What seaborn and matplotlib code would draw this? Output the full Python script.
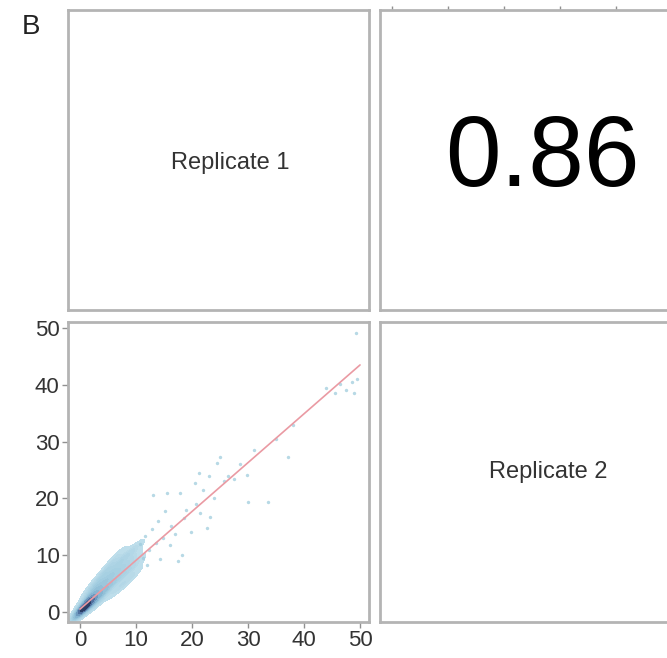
import numpy as np
import pandas as pd
import matplotlib
matplotlib.use("Agg")
import matplotlib.pyplot as plt
from matplotlib.colors import LinearSegmentedColormap
import seaborn as sns

# labels of the pairs panels
var_names = ["Replicate 1", "Replicate 2"]
corr_label = "0.86"
panel_tag = "B"
tick_vals = [0, 10, 20, 30, 40, 50]

# dense cloud near the diagonal
dense_x = [0.2, 0.4, 0.5, 0.6, 0.8, 0.3, 1.0, 0.7, 1.2, 0.9, 1.4, 0.5, 0.3, 0.6, 1.1, 0.4, 0.8, 1.3, 1.6, 0.2,
           1.8, 2.0, 2.3, 2.5, 2.1, 2.8, 3.0, 3.2, 3.5, 2.7, 3.8, 4.0, 3.6, 4.2, 4.5, 4.8, 4.3, 5.0, 1.5, 2.4,
           3.3, 4.1, 1.2, 1.9, 2.9, 5.3, 5.5, 5.8, 6.0, 5.2, 6.3, 6.6, 6.8, 7.0, 7.3, 7.5, 7.8, 8.0, 8.3, 8.6,
           9.0, 9.2, 9.5, 10.0, 10.3, 6.2, 7.2, 8.5, 9.8, 5.6, 6.9, 4.6]
dense_y = [0.3, 0.5, 0.2, 0.7, 0.5, 0.8, 0.9, 1.1, 0.6, 1.4, 1.2, 0.4, 0.1, 0.4, 1.0, 0.9, 0.8, 1.5, 1.1, 0.6,
           2.4, 1.6, 2.9, 2.0, 3.5, 3.3, 2.4, 4.2, 3.1, 4.6, 4.0, 3.2, 5.3, 5.0, 3.9, 5.6, 6.4, 4.4, 2.8, 1.3,
           1.9, 2.6, 2.2, 4.0, 5.5, 6.2, 4.8, 7.0, 5.4, 7.6, 6.5, 8.2, 5.7, 7.4, 9.0, 6.4, 8.0, 9.8, 7.0, 8.8,
           10.4, 7.9, 9.3, 11.2, 8.6, 3.8, 4.6, 5.5, 6.8, 8.6, 10.1, 7.3]

# sparse points away from the cloud
sparse_x = [10.8, 11.2, 11.6, 12.0, 12.4, 12.8, 13.0, 13.5, 14.0, 14.3, 14.8, 15.2, 15.5, 16.0, 16.2, 17.0,
            17.5, 17.9, 18.2, 18.5, 19.0, 19.8, 20.5, 20.8, 21.2, 21.5, 22.0, 22.7, 23.2, 23.0, 24.0, 24.5,
            25.0, 25.8, 26.5, 27.5, 28.5, 29.8, 30.0, 31.0, 33.6, 35.0, 37.2, 38.0, 44.0, 45.5, 46.5, 47.5,
            48.5, 49.0, 49.5, 49.3]
sparse_y = [12.0, 9.5, 13.4, 8.2, 11.0, 14.6, 20.6, 12.2, 16.0, 9.3, 13.0, 17.8, 21.0, 11.8, 15.2, 13.8,
            9.0, 21.0, 10.0, 16.5, 18.0, 14.0, 22.8, 19.0, 24.5, 17.5, 21.5, 14.8, 16.8, 24.0, 20.0, 26.2,
            27.3, 23.0, 24.0, 23.5, 26.0, 24.1, 19.4, 28.5, 19.4, 30.5, 27.3, 33.0, 39.5, 38.5, 40.2, 39.0,
            40.5, 38.5, 41.0, 49.1]

# fitted line ends
fit_x = [0, 50]
fit_y = [0.5, 43.5]

dense = pd.DataFrame({"r1": dense_x, "r2": dense_y})
sparse = pd.DataFrame({"r1": sparse_x, "r2": sparse_y})
fit = pd.DataFrame({"r1": fit_x, "r2": fit_y})

sns.set_style("white")
plt.rcParams["font.family"] = ["Liberation Sans", "DejaVu Sans"]

fig = plt.figure(figsize=(6.67, 6.58), dpi=100)
W, H = 667, 658

def panel(x0, y0, x1, y1):
    ax = fig.add_axes([x0 / W, 1 - y1 / H, (x1 - x0) / W, (y1 - y0) / H])
    for s in ax.spines.values():
        s.set_color("#b4b4b4")
        s.set_linewidth(2)
    ax.set_xticks([])
    ax.set_yticks([])
    return ax

ax_tl = panel(68, 10, 369, 310)
ax_tr = panel(380, 10, 681, 310)
ax_bl = panel(68, 322, 369, 622)
ax_br = panel(380, 322, 681, 622)

# diagonal labels and correlation
ax_tl.text(0.54, 0.49, var_names[0], transform=ax_tl.transAxes, ha="center", va="center",
           fontsize=17, color="#333333")
ax_br.text(0.56, 0.5, var_names[1], transform=ax_br.transAxes, ha="center", va="center",
           fontsize=17, color="#333333")
ax_tr.text(0.54, 0.5, corr_label, transform=ax_tr.transAxes, ha="center", va="center",
           fontsize=72, color="black")

# top axis ticks of the upper right panel
ax_tr.set_xlim(-2.14, 51.6)
ax_tr.xaxis.tick_top()
ax_tr.set_xticks(tick_vals)
ax_tr.set_xticklabels([])
ax_tr.tick_params(axis="x", top=True, length=3, width=1, color="#909090")

# scatter panel (smoothed density + loose points)
cmap = LinearSegmentedColormap.from_list("smooth", ["#c2e0ec", "#a2cde0", "#7fb0cf", "#4d6d9c", "#1a2446"])
sns.kdeplot(data=dense, x="r1", y="r2", fill=True, cmap=cmap, levels=14, thresh=0.03,
            bw_adjust=0.85, ax=ax_bl)
sns.scatterplot(data=sparse, x="r1", y="r2", s=5, color="#9ccbdc", edgecolor=None, alpha=0.7, ax=ax_bl)
sns.lineplot(data=fit, x="r1", y="r2", color="#ea9aa3", linewidth=1.2, ax=ax_bl)

ax_bl.set_xlim(-2.14, 51.6)
ax_bl.set_ylim(-1.76, 51.06)
ax_bl.set_xticks(tick_vals)
ax_bl.set_yticks(tick_vals)
ax_bl.set_xticklabels([str(v) for v in tick_vals])
ax_bl.set_yticklabels([str(v) for v in tick_vals])
ax_bl.tick_params(axis="both", bottom=True, left=True, length=4, width=1, color="#909090",
                  labelsize=16, labelcolor="#333333", pad=2)
ax_bl.set_xlabel("")
ax_bl.set_ylabel("")

fig.text(31 / W, 1 - 27 / H, panel_tag, ha="center", va="center", fontsize=20, color="#222222")

fig.savefig("out.png", dpi=100)
